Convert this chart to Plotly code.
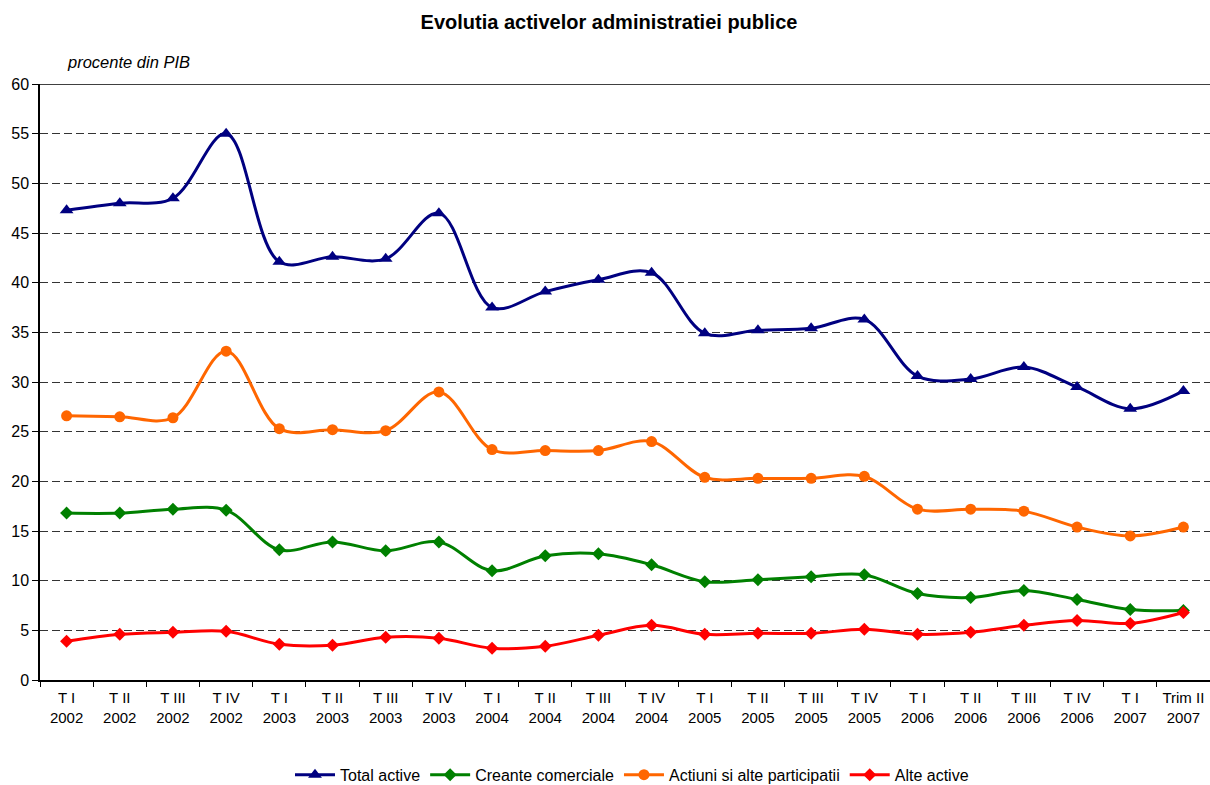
import plotly.graph_objects as go

categories = ["T I<br>2002", "T II<br>2002", "T III<br>2002", "T IV<br>2002",
              "T I<br>2003", "T II<br>2003", "T III<br>2003", "T IV<br>2003",
              "T I<br>2004", "T II<br>2004", "T III<br>2004", "T IV<br>2004",
              "T I<br>2005", "T II<br>2005", "T III<br>2005", "T IV<br>2005",
              "T I<br>2006", "T II<br>2006", "T III<br>2006", "T IV<br>2006",
              "T I<br>2007", "Trim II<br>2007"]

total_active = [47.3, 48.0, 48.5, 55.0, 42.1, 42.6, 42.4, 47.0, 37.5, 39.1, 40.3, 41.0,
                34.9, 35.2, 35.4, 36.3, 30.6, 30.3, 31.5, 29.5, 27.3, 29.1]
creante_comerciale = [16.8, 16.8, 17.2, 17.1, 13.1, 13.9, 13.0, 13.9, 11.0, 12.5, 12.7, 11.6,
                      9.9, 10.1, 10.4, 10.6, 8.7, 8.3, 9.0, 8.1, 7.1, 7.0]
actiuni = [26.6, 26.5, 26.4, 33.1, 25.3, 25.2, 25.1, 29.0, 23.2, 23.1, 23.1, 24.0,
           20.4, 20.3, 20.3, 20.5, 17.2, 17.2, 17.0, 15.4, 14.5, 15.4]
alte_active = [3.9, 4.6, 4.8, 4.9, 3.6, 3.5, 4.3, 4.2, 3.2, 3.4, 4.5, 5.5,
               4.6, 4.7, 4.7, 5.1, 4.6, 4.8, 5.5, 6.0, 5.7, 6.8]

series = [
    ("Total active", total_active, "#000080", "triangle-up", 12),
    ("Creante comerciale", creante_comerciale, "#008000", "diamond", 10),
    ("Actiuni si alte participatii", actiuni, "#FF6600", "circle", 11),
    ("Alte active", alte_active, "#FF0000", "diamond", 10),
]

fig = go.Figure()
for name, vals, color, sym, size in series:
    fig.add_trace(go.Scatter(
        x=categories, y=vals, name=name, mode="lines+markers",
        line=dict(color=color, width=3, shape="spline", smoothing=1.0),
        marker=dict(symbol=sym, size=size, color=color),
    ))

fig.update_layout(
    width=1210, height=785,
    margin=dict(l=40, r=0, t=84, b=105, autoexpand=False),
    plot_bgcolor="white", paper_bgcolor="white",
    font=dict(family="Arial, Liberation Sans, sans-serif", size=12, color="black"),
    title=dict(text="<b>Evolutia activelor administratiei publice</b>",
               x=609 / 1210, xref="container", xanchor="center",
               y=1 - 15 / 785, yref="container", yanchor="top",
               font=dict(size=20, color="black")),
    showlegend=True,
    legend=dict(orientation="h", x=(632 - 40) / 1170, xanchor="center", y=-0.159,
                yanchor="middle", font=dict(size=16), itemwidth=40, tracegroupgap=0),
    xaxis=dict(type="category", showline=True, linecolor="black", linewidth=2,
               ticks="outside", tickson="boundaries", ticklen=5, tickcolor="black",
               showgrid=False, tickfont=dict(size=15), tickangle=0,
               ticklabelstandoff=3,
               range=[-0.5, 21.5], automargin=False),
    yaxis=dict(range=[0, 60], dtick=5, showline=True, linecolor="black", linewidth=1.5,
               ticks="outside", ticklen=6, tickcolor="black",
               showgrid=True, gridcolor="#333333", griddash="8px,4px", gridwidth=1,
               zeroline=False, tickfont=dict(size=16), automargin=False),
    shapes=[dict(type="line", xref="paper", yref="y", x0=0, x1=1, y0=60, y1=60,
                 line=dict(color="black", width=1.5))],
    annotations=[dict(text="<i>procente din PIB</i>", xref="paper", yref="paper",
                      x=25 / 1170, y=(680 - 62) / 596, xanchor="left", yanchor="middle",
                      showarrow=False, font=dict(size=16.5, color="black"))],
)

fig.write_html("out.html", config={"displayModeBar": False},
               post_script="document.body.style.margin='0';document.body.style.overflow='hidden';")
